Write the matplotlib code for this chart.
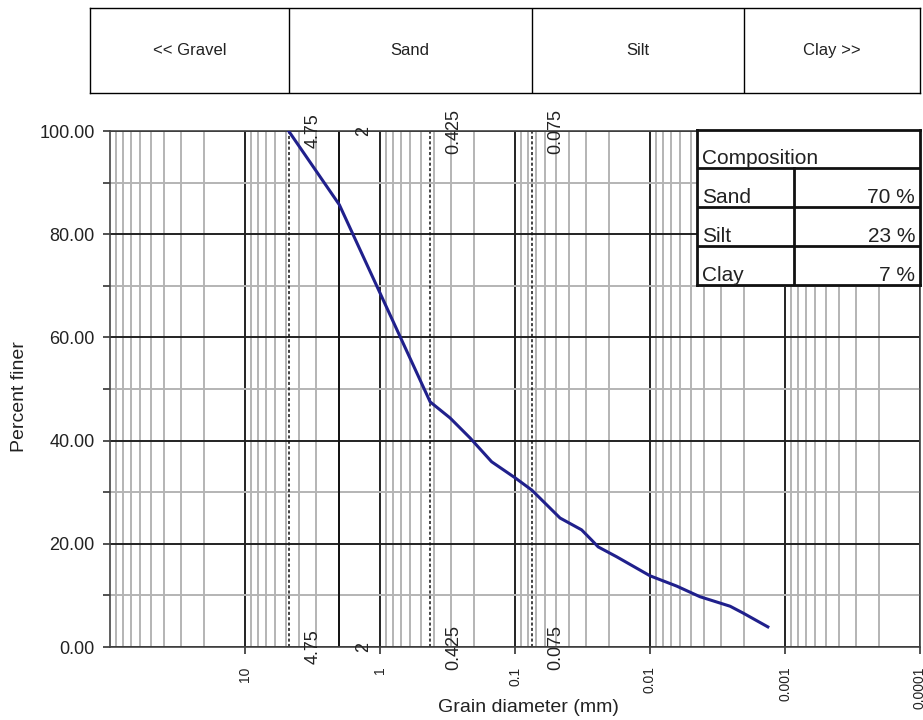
import numpy as np
import matplotlib
matplotlib.use("Agg")
import matplotlib.pyplot as plt
import matplotlib.ticker as ticker

plt.rcParams['font.family'] = ['Liberation Sans', 'DejaVu Sans']

# grain size distribution
diameter = [4.75, 2.0, 0.425, 0.303, 0.215, 0.149, 0.1, 0.075, 0.0464, 0.0321,
            0.027, 0.0242, 0.0177, 0.01, 0.00634, 0.00427, 0.00255, 0.00205, 0.00134]
finer = [100.0, 85.7, 47.5, 44.4, 40.5, 35.9, 32.8, 30.4, 25.0, 22.7,
         20.7, 19.4, 17.5, 13.8, 11.8, 9.75, 7.9, 6.6, 3.9]

xticks = [10, 1, 0.1, 0.01, 0.001, 0.0001]
xtick_labels = ['10', '1', '0.1', '0.01', '0.001', '0.0001']
sieve_sizes = [4.75, 2, 0.425, 0.075]
sieve_labels = ['4.75', '2', '0.425', '0.075']
dashed_sieves = [4.75, 0.425, 0.075]

header_names = ['<< Gravel', 'Sand', 'Silt', 'Clay >>']
header_bounds = [4.75, 0.075, 0.002]

comp_names = ['Sand', 'Silt', 'Clay']
comp_values = ['70 %', '23 %', '7 %']

W, H = 923, 720
fig = plt.figure(figsize=(W / 100, H / 100), dpi=100)
txt = '#222222'

#================ main axes =================
ax = fig.add_axes([110 / W, 1 - 647 / H, 810 / W, 516 / H])
ax.set_xscale('log')
ax.set_xlim(100, 1e-4)
ax.set_ylim(0, 100)

ax.xaxis.set_major_locator(ticker.FixedLocator(xticks))
ax.xaxis.set_major_formatter(ticker.FixedFormatter(xtick_labels))
ax.xaxis.set_minor_locator(ticker.LogLocator(base=10, subs=np.arange(2, 10), numticks=20))
ax.xaxis.set_minor_formatter(ticker.NullFormatter())
ax.yaxis.set_major_locator(ticker.MultipleLocator(20))
ax.yaxis.set_minor_locator(ticker.MultipleLocator(10))
ax.yaxis.set_major_formatter(ticker.FormatStrFormatter('%.2f'))

ax.tick_params(axis='x', which='major', labelrotation=90, labelsize=10,
               length=5, width=1.2, color='#333333', pad=9, labelcolor=txt)
ax.tick_params(axis='x', which='minor', length=0)
ax.tick_params(axis='y', which='both', labelsize=13, length=5, width=1.2,
               color='#333333', labelcolor=txt, pad=6)

ax.grid(which='major', color='#222222', lw=1.4)
ax.grid(which='minor', color='#b4b4b4', lw=1.4)
ax.set_axisbelow(True)
for s in ax.spines.values():
    s.set_color('#444444')
    s.set_linewidth(1.2)

ax.set_xlabel('Grain diameter (mm)', fontsize=14, color=txt)
ax.xaxis.set_label_coords((528 - 110) / 810, (647 - 708) / 516)
ax.xaxis.label.set_va('center')
ax.set_ylabel('Percent finer', fontsize=14, color=txt)
ax.yaxis.set_label_coords((20 - 110) / 810, (647 - 397) / 516)
ax.yaxis.label.set_va('center')

# sieve boundary lines
ax.axvline(2, color='#111111', lw=1.4)
for d in dashed_sieves:
    ax.axvline(d, color='#111111', lw=1.1, ls=(0, (2, 1.5)))
for d, lab in zip(sieve_sizes, sieve_labels):
    for yv in (100, 0):
        ax.annotate(lab, xy=(d, yv), xytext=(24, 0), textcoords='offset pixels',
                    rotation=90, ha='center', va='center', fontsize=13,
                    color=txt, annotation_clip=False)

ax.plot(diameter, finer, color='#20208c', lw=2.2, zorder=5)

#================ header boxes =================
hx = fig.add_axes([90 / W, 1 - 93 / H, 830 / W, 85 / H])
hx.set_xscale('log')
left = 10 ** (2 + 20 / 135)
hx.set_xlim(left, 1e-4)
hx.set_ylim(0, 1)
hx.xaxis.set_major_locator(ticker.NullLocator())
hx.xaxis.set_minor_locator(ticker.NullLocator())
hx.set_yticks([])
for s in hx.spines.values():
    s.set_linewidth(1.0)
for b in header_bounds:
    hx.axvline(b, color='black', lw=1.0)
edges = [left] + header_bounds + [1e-4]
for i, name in enumerate(header_names):
    xc = np.sqrt(edges[i] * edges[i + 1])
    hx.text(xc, 0.5, name, ha='center', va='center', fontsize=12, color=txt)

#================ composition table =================
tx = fig.add_axes([697 / W, 1 - 285 / H, 223 / W, 155 / H])
tx.set_xlim(0, 223)
tx.set_ylim(155, 0)
tx.set_xticks([])
tx.set_yticks([])
tx.set_facecolor('white')
for s in tx.spines.values():
    s.set_linewidth(2.0)
    s.set_color('#111111')
rows = [38, 77, 116, 155]
for r in rows[:-1]:
    tx.axhline(r, color='#111111', lw=2.0)
tx.plot([97, 97], [38, 155], color='#111111', lw=2.0)
tx.text(5, rows[0] - 4, 'Composition', fontsize=15, color=txt, va='baseline')
for i, (name, val) in enumerate(zip(comp_names, comp_values)):
    yb = rows[i + 1] - 4
    tx.text(5, yb, name, fontsize=15, color=txt, va='baseline')
    tx.text(218, yb, val, fontsize=15, color=txt, va='baseline', ha='right')

fig.savefig('out.png', dpi=100)
